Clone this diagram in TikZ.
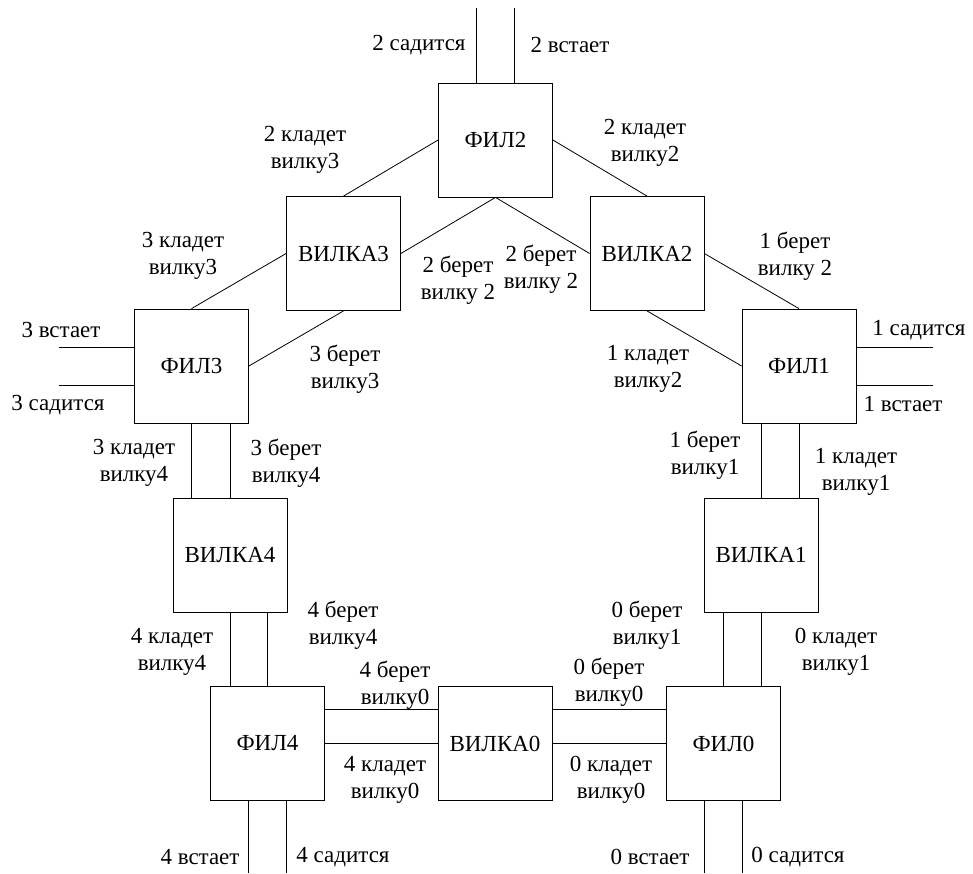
\documentclass[tikz,border=0pt]{standalone}
\usepackage{fontspec}
\setmainfont{Liberation Serif}
\begin{document}
\begin{tikzpicture}[x=1pt,y=-1pt,
  box/.style={draw,line width=0.8pt,minimum width=114pt,minimum height=114pt,inner sep=0pt,font=\fontsize{23}{27}\selectfont},
  lbl/.style={align=center,inner sep=0pt,font=\fontsize{23}{27}\selectfont},
  ln/.style={line width=0.8pt}]
\useasboundingbox (0,0) rectangle (973,873);
% boxes
\node[box] (F2) at (495.5,140) {ФИЛ2};
\node[box] (V3) at (343.5,253.5) {ВИЛКА3};
\node[box] (V2) at (647,253.5) {ВИЛКА2};
\node[box] (F3) at (191.5,366) {ФИЛ3};
\node[box] (F1) at (799,366) {ФИЛ1};
\node[box] (V4) at (230,555.5) {ВИЛКА4};
\node[box] (V1) at (761,555.5) {ВИЛКА1};
\node[box] (F4) at (267.5,743.5) {ФИЛ4};
\node[box] (V0) at (495,743.5) {ВИЛКА0};
\node[box] (F0) at (723.5,743.5) {ФИЛ0};
% free ends
\coordinate (t2a) at (476.5,8);
\coordinate (t2b) at (514.5,8);
\coordinate (l3a) at (59,347);
\coordinate (l3b) at (59,385);
\coordinate (r1a) at (933,347);
\coordinate (r1b) at (933,385);
\coordinate (b4a) at (248.5,873);
\coordinate (b4b) at (286.5,873);
\coordinate (b0a) at (704.5,873);
\coordinate (b0b) at (742.5,873);
% connectors
\draw[ln] (t2a) -- (t2a |- F2.north);
\draw[ln] (t2b) -- (t2b |- F2.north);
\draw[ln] (F2.west) -- (V3.north);
\draw[ln] (F2.east) -- (V2.north);
\draw[ln] (F2.south) -- (V3.east);
\draw[ln] (F2.south) -- (V2.west);
\draw[ln] (V3.west) -- (F3.north);
\draw[ln] (V3.south) -- (F3.east);
\draw[ln] (V2.south) -- (F1.west);
\draw[ln] (V2.east) -- (F1.north);
\draw[ln] (l3a) -- (l3a -| F3.west);
\draw[ln] (l3b) -- (l3b -| F3.west);
\draw[ln] (r1a) -- (r1a -| F1.east);
\draw[ln] (r1b) -- (r1b -| F1.east);
\draw[ln] (F3.south) -- (F3.south |- V4.north);
\draw[ln] (V4.north) -- (V4.north |- F3.south);
\draw[ln] (V4.south) -- (V4.south |- F4.north);
\draw[ln] (F4.north) -- (F4.north |- V4.south);
\draw[ln] (F1.south) -- (F1.south |- V1.north);
\draw[ln] (V1.north) -- (V1.north |- F1.south);
\draw[ln] (V1.south) -- (V1.south |- F0.north);
\draw[ln] (F0.north) -- (F0.north |- V1.south);
\draw[ln] ([yshift=34pt]F4.east) -- ([yshift=34pt]F4.east -| V0.west);
\draw[ln] (F4.east) -- (V0.west);
\draw[ln] ([yshift=34pt]V0.east) -- ([yshift=34pt]V0.east -| F0.west);
\draw[ln] (V0.east) -- (F0.west);
\draw[ln] (b4a) -- (b4a |- F4.south);
\draw[ln] (b4b) -- (b4b |- F4.south);
\draw[ln] (b0a) -- (b0a |- F0.south);
\draw[ln] (b0b) -- (b0b |- F0.south);
% labels
\node[lbl] (L1) at (419,45) {2 садится};
\node[lbl] (L2) at (570,45) {2 встает};
\node[lbl] (L3) at (305,150) {2 кладет\\вилку3};
\node[lbl] (L4) at (645,143) {2 кладет\\вилку2};
\node[lbl] (L5) at (458,280) {2 берет\\вилку 2};
\node[lbl] (L6) at (541,269) {2 берет\\вилку 2};
\node[lbl] (L7) at (183,256) {3 кладет\\вилку3};
\node[lbl] (L8) at (795,256) {1 берет\\вилку 2};
\node[lbl] (L9) at (61,330) {3 встает};
\node[lbl] (L10) at (58,405) {3 садится};
\node[lbl] (L11) at (345,369) {3 берет\\вилку3};
\node[lbl] (L12) at (648,369) {1 кладет\\вилку2};
\node[lbl] (L13) at (919,330) {1 садится};
\node[lbl] (L14) at (903,404) {1 встает};
\node[lbl] (L15) at (134,463) {3 кладет\\вилку4};
\node[lbl] (L16) at (286,463) {3 берет\\вилку4};
\node[lbl] (L17) at (705,455) {1 берет\\вилку1};
\node[lbl] (L18) at (856,472) {1 кладет\\вилку1};
\node[lbl] (L19) at (343,625) {4 берет\\вилку4};
\node[lbl] (L20) at (172,652) {4 кладет\\вилку4};
\node[lbl] (L21) at (647,625) {0 берет\\вилку1};
\node[lbl] (L22) at (836,652) {0 кладет\\вилку1};
\node[lbl] (L23) at (395,685) {4 берет\\вилку0};
\node[lbl] (L24) at (385,780) {4 кладет\\вилку0};
\node[lbl] (L25) at (609,682) {0 берет\\вилку0};
\node[lbl] (L26) at (611,780) {0 кладет\\вилку0};
\node[lbl] (L27) at (200,857) {4 встает};
\node[lbl] (L28) at (343,857) {4 садится};
\node[lbl] (L29) at (650,857) {0 встает};
\node[lbl] (L30) at (798,857) {0 садится};
\end{tikzpicture}
\end{document}
